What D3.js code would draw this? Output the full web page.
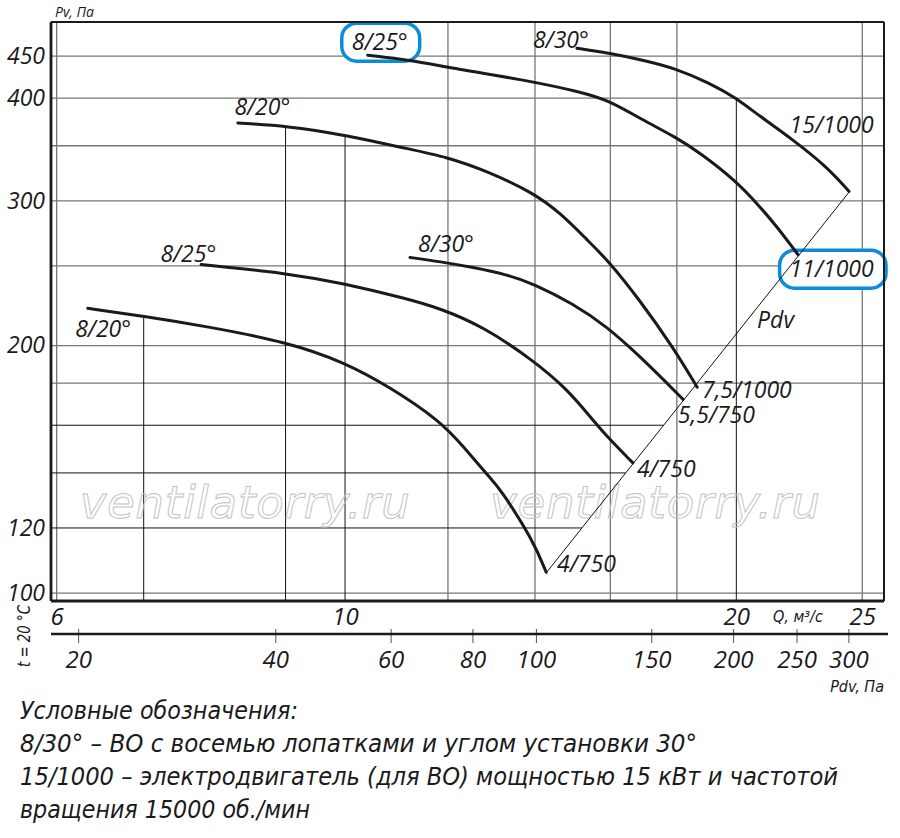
<!DOCTYPE html>
<html lang="ru">
<head>
<meta charset="utf-8">
<title>Pv – Q</title>
<script src="https://cdn.jsdelivr.net/npm/d3@7"></script>
<style>
  body { margin: 0; background: #fff; }
  svg { display: block; font-family: "Open Sans", sans-serif; }
  .lbl, .tick text { font-style: italic; fill: #1a1a1a; }
  .narrow { font-family: "Liberation Sans Narrow", "DejaVu Sans Condensed", sans-serif; font-style: italic; fill: #1a1a1a; }
</style>
</head>
<body>
<div id="viz"></div>
<script>
// ---- data (Q in m3/s, P in Pa) ----
const qTicks = [6, 10, 20, 25];
const pvTicks = [100, 120, 200, 300, 400, 450];
const pdvTicks = [20, 40, 60, 80, 100, 150, 200, 250, 300];

const qGridGray = [6, 12, 14, 16, 18, 25];
const qGridBlack = [7, 9, 10, 20];
const qGridBlackTop = [217, 370, 361, 401];
const pvGridGray = [100, 180, 200, 250, 300, 350, 400, 450];
const pvGridBlack = [120, 140, 160];

const pdvLineQ = [14.28, 24.46];
const pdvLineP = [105.8, 308.4];

const curveQ = [
    [10.41, 11.22, 12.0, 13.95, 15.16, 15.93, 16.95, 17.94, 18.76, 19.95, 20.86, 21.49, 22.31],
    [15.08, 15.93, 16.95, 17.94, 19.09, 19.95, 20.86, 22.11, 23.48, 24.42],
    [8.27, 9.02, 9.98, 11.08, 12.0, 12.86, 13.95, 14.64, 15.35, 15.93, 16.86, 17.88, 18.66],
    [11.22, 11.83, 12.54, 13.32, 13.95, 14.97, 15.9, 16.86, 17.69, 18.2],
    [7.75, 9.02, 9.98, 11.16, 11.83, 12.77, 13.95, 14.82, 15.43, 15.9, 16.65],
    [6.34, 7.02, 7.83, 9.02, 9.98, 10.83, 11.83, 12.32, 12.93, 13.16, 13.95, 14.28]
];
const curveP = [
    [451, 445, 436, 419, 407, 398, 376, 359, 343, 318, 295, 279, 258],
    [460, 454, 445, 435, 417, 401, 380, 356, 330, 308],
    [373, 370, 361, 348, 339, 326, 307, 290, 269, 254, 227, 199, 178],
    [256, 253, 249, 244, 238, 225, 211, 194, 180, 172],
    [251, 245, 238, 228, 222, 211, 192, 177, 164, 155, 144],
    [222, 217, 211, 202, 191, 178, 162, 151, 138, 134, 116, 106]
];

const labelText = ["8/25°", "8/30°", "15/1000", "11/1000", "8/20°", "8/30°", "8/25°", "8/20°",
    "Pdv", "7,5/1000", "5,5/750", "4/750", "4/750"];
const labelQ = [10.12, 13.95, 21.98, 21.98, 8.22, 11.38, 7.21, 6.20, 20.75, 18.82, 18.03, 16.77, 14.56];
const labelP = [457.5, 460, 362.9, 242.2, 381.7, 260, 253, 204.9, 210, 172.6, 161, 138.4, 106.1];
const boxed = [0, 3];

const legendLines = [
    "Условные обозначения:",
    "8/30° – ВО с восемью лопатками и углом установки 30°",
    "15/1000 – электродвигатель (для ВО) мощностью 15 кВт и частотой",
    "вращения 15000 об./мин"
];
const legendWidths = [278, 677, 818, 290];

// ---- layout ----
const width = 900, height = 838;
const frame = { left: 51, right: 884, top: 22, bottom: 601 };

const x = d3.scaleLog().domain([5.94, 25.98]).range([frame.left, frame.right]);
const y = d3.scaleLog().domain([97.8, 495]).range([frame.bottom, frame.top]);
const xPdv = d3.scaleLog().domain([18.18, 340]).range([frame.left, frame.right]);

const svg = d3.select("#viz").append("svg")
    .attr("width", width)
    .attr("height", height);

const gGrid = svg.append("g");
const gMark = svg.append("g");
const gBox = svg.append("g");
const gCurves = svg.append("g");
const gLabels = svg.append("g");

// q where the Pdv line reaches pressure p (straight line in log-log)
function pdvQAt(p) {
    const t = (Math.log(p) - Math.log(pdvLineP[0])) / (Math.log(pdvLineP[1]) - Math.log(pdvLineP[0]));
    return Math.exp(Math.log(pdvLineQ[0]) + t * (Math.log(pdvLineQ[1]) - Math.log(pdvLineQ[0])));
}

gGrid.selectAll(".hg")
    .data(pvGridGray)
    .join("line")
        .attr("class", "hg")
        .attr("x1", frame.left).attr("x2", frame.right)
        .attr("y1", d => y(d)).attr("y2", d => y(d))
        .attr("stroke", "#777").attr("stroke-width", 1.3);

gGrid.selectAll(".vg")
    .data(qGridGray)
    .join("line")
        .attr("class", "vg")
        .attr("x1", d => x(d)).attr("x2", d => x(d))
        .attr("y1", frame.top).attr("y2", frame.bottom)
        .attr("stroke", "#777").attr("stroke-width", 1.3);

gGrid.selectAll(".vb")
    .data(qGridBlack.map((q, i) => ({ q, top: qGridBlackTop[i] })))
    .join("line")
        .attr("class", "vb")
        .attr("x1", d => x(d.q)).attr("x2", d => x(d.q))
        .attr("y1", d => y(d.top)).attr("y2", frame.bottom)
        .attr("stroke", "#111").attr("stroke-width", 1);

gGrid.selectAll(".hb")
    .data(pvGridBlack)
    .join("line")
        .attr("class", "hb")
        .attr("x1", frame.left).attr("x2", d => x(pdvQAt(d)))
        .attr("y1", d => y(d)).attr("y2", d => y(d))
        .attr("stroke", "#111").attr("stroke-width", 1);

// watermark
gMark.selectAll("text")
    .data([6.25, 12.93])
    .join("text")
        .attr("x", d => x(d))
        .attr("y", y(123.5))
        .attr("font-family", "'DejaVu Sans', sans-serif")
        .attr("font-style", "oblique")
        .attr("font-size", 45)
        .attr("textLength", 330)
        .attr("fill", "none")
        .attr("stroke", "#c4c4c4")
        .attr("stroke-width", 1)
        .text("ventilatorry.ru");

// Pdv line
gCurves.append("line")
    .attr("x1", x(pdvLineQ[0])).attr("y1", y(pdvLineP[0]))
    .attr("x2", x(pdvLineQ[1])).attr("y2", y(pdvLineP[1]))
    .attr("stroke", "#111").attr("stroke-width", 1);

const line = d3.line()
    .x(d => x(d[0]))
    .y(d => y(d[1]))
    .curve(d3.curveBasis);

gCurves.selectAll(".curve")
    .data(curveQ.map((qs, i) => qs.map((q, j) => [q, curveP[i][j]])))
    .join("path")
        .attr("class", "curve")
        .attr("d", line)
        .attr("fill", "none")
        .attr("stroke", "#1a1a1a")
        .attr("stroke-width", 3)
        .attr("stroke-linecap", "round");

// curve labels
const labels = gLabels.selectAll(".lbl")
    .data(labelText.map((t, i) => ({ t, q: labelQ[i], p: labelP[i], i })))
    .join("text")
        .attr("class", "lbl")
        .attr("x", d => x(d.q))
        .attr("y", d => y(d.p))
        .attr("font-size", 23)
        .text(d => d.t);

labels.filter(d => boxed.includes(d.i)).each(function () {
    const b = this.getBBox();
    gBox.append("rect")
        .attr("x", b.x - 10).attr("y", b.y - 2)
        .attr("width", b.width + 22).attr("height", b.height + 6)
        .attr("rx", 15)
        .attr("fill", "#fff")
        .attr("stroke", "#0b8ddb")
        .attr("stroke-width", 3.5);
});

// frame
const frameSides = [
    [frame.left, frame.top, frame.right, frame.top, 2],
    [frame.right, frame.top, frame.right, frame.bottom, 2],
    [frame.left, frame.top, frame.left, frame.bottom, 2.8],
    [frame.left, frame.bottom, frame.right, frame.bottom, 2.8]
];
svg.append("g").selectAll("line")
    .data(frameSides)
    .join("line")
        .attr("x1", d => d[0]).attr("y1", d => d[1])
        .attr("x2", d => d[2]).attr("y2", d => d[3])
        .attr("stroke", "#1a1a1a").attr("stroke-width", d => d[4]);

// axes
const yAxis = svg.append("g")
    .attr("transform", `translate(${frame.left},0)`)
    .call(d3.axisLeft(y).tickValues(pvTicks).tickFormat(d3.format("d")).tickSize(0).tickPadding(6));
yAxis.attr("font-size", 23).attr("font-family", "'Open Sans', sans-serif");
yAxis.select(".domain").remove();

const qAxis = svg.append("g")
    .attr("transform", `translate(0,${frame.bottom})`)
    .call(d3.axisBottom(x).tickValues(qTicks).tickFormat(d3.format("d")).tickSize(0).tickPadding(7));
qAxis.attr("font-size", 24).attr("font-family", "'Open Sans', sans-serif");
qAxis.select(".domain").remove();

const pdvAxis = svg.append("g")
    .attr("transform", "translate(0,629)")
    .call(d3.axisBottom(xPdv).tickValues(pdvTicks).tickFormat(d3.format("d")).tickSize(14).tickPadding(8));
pdvAxis.attr("font-size", 24).attr("font-family", "'Open Sans', sans-serif");
pdvAxis.select(".domain").remove();
pdvAxis.selectAll(".tick line").attr("stroke", "#555");

svg.append("line")
    .attr("x1", frame.left).attr("x2", frame.right + 4)
    .attr("y1", 634).attr("y2", 634)
    .attr("stroke", "#1a1a1a").attr("stroke-width", 2.6);

// axis titles
svg.append("text").attr("class", "lbl")
    .attr("x", 55).attr("y", 17).attr("font-size", 14)
    .text("Pv, Па");

svg.append("text").attr("class", "narrow")
    .attr("x", 773).attr("y", 622).attr("font-size", 16)
    .text("Q, м³/с");

svg.append("text").attr("class", "narrow")
    .attr("x", frame.right).attr("y", 692).attr("font-size", 16)
    .attr("text-anchor", "end")
    .text("Pdv, Па");

svg.append("text").attr("class", "narrow")
    .attr("transform", "translate(30,636) rotate(-90)")
    .attr("text-anchor", "middle")
    .attr("font-size", 17)
    .attr("textLength", 62)
    .attr("lengthAdjust", "spacingAndGlyphs")
    .text("t = 20 °C");

// legend
svg.append("g").selectAll("text")
    .data(legendLines)
    .join("text")
        .attr("class", "narrow")
        .attr("x", 20)
        .attr("y", (d, i) => 719 + i * 33)
        .attr("font-size", 24)
        .attr("textLength", (d, i) => legendWidths[i])
        .attr("lengthAdjust", "spacingAndGlyphs")
        .text(d => d);
</script>
</body>
</html>
